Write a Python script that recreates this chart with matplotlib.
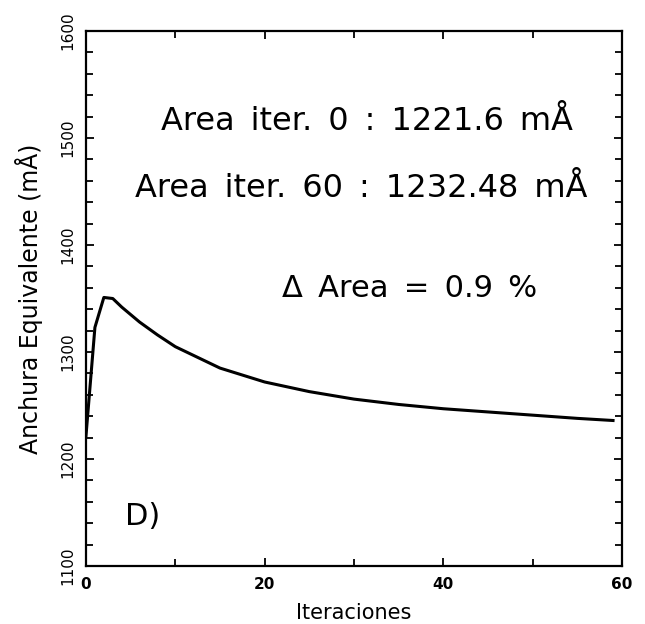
import matplotlib
matplotlib.use("Agg")
import matplotlib.pyplot as plt
from matplotlib.ticker import MultipleLocator

iterations = [0, 1, 2, 3, 4, 5, 6, 8, 10, 12, 15, 20, 25, 30, 35, 40, 45, 50, 55, 59]
width_mA = [1221.6, 1323, 1351, 1350, 1342, 1335, 1328, 1316, 1305, 1297, 1285,
            1272, 1263, 1256, 1251, 1247, 1244, 1241, 1238, 1236]

x_ticks = [0, 20, 40, 60]
y_ticks = [1100, 1200, 1300, 1400, 1500, 1600]

SP = "\u2002"
line1 = SP.join(["Area", "iter.", "0", ":", "1221.6", "mÅ"])
line2 = SP.join(["Area", "iter.", "60", ":", "1232.48", "mÅ"])
line3 = SP.join(["Δ", "Area", "=", "0.9", "%"])

fig = plt.figure(figsize=(6.45, 6.24), dpi=100)
ax = fig.add_axes([0.1333, 0.0929, 0.8310, 0.8574])

ax.plot(iterations, width_mA, color="black", lw=2.2, solid_joinstyle="round")

ax.set_xlim(0, 60)
ax.set_ylim(1100, 1600)
ax.set_xticks(x_ticks)
ax.set_yticks(y_ticks)
ax.xaxis.set_minor_locator(MultipleLocator(10))
ax.yaxis.set_minor_locator(MultipleLocator(20))
ax.tick_params(which="both", direction="in", top=True, right=True, width=1.3, color="black")
ax.tick_params(which="major", length=6)
ax.tick_params(which="minor", length=5)
ax.tick_params(axis="x", labelsize=11, pad=8)
ax.tick_params(axis="y", labelsize=11, pad=8)
for lab in ax.get_yticklabels():
    lab.set_rotation(90)
    lab.set_va("center")
for lab in ax.get_xticklabels():
    lab.set_fontweight("bold")
for sp in ax.spines.values():
    sp.set_linewidth(1.6)

ax.set_xlabel("Iteraciones", fontsize=15, labelpad=8)
ax.set_ylabel("Anchura Equivalente (mÅ)", fontsize=17, labelpad=12)

ax.text(0.525, 0.815, line1, transform=ax.transAxes,
        ha="center", va="baseline", fontsize=23)
ax.text(0.513, 0.690, line2, transform=ax.transAxes,
        ha="center", va="baseline", fontsize=23)
ax.text(0.604, 0.503, line3, transform=ax.transAxes,
        ha="center", va="baseline", fontsize=22)
ax.text(0.073, 0.077, "D)", transform=ax.transAxes,
        ha="left", va="baseline", fontsize=22)

fig.savefig("out.png", dpi=100)
